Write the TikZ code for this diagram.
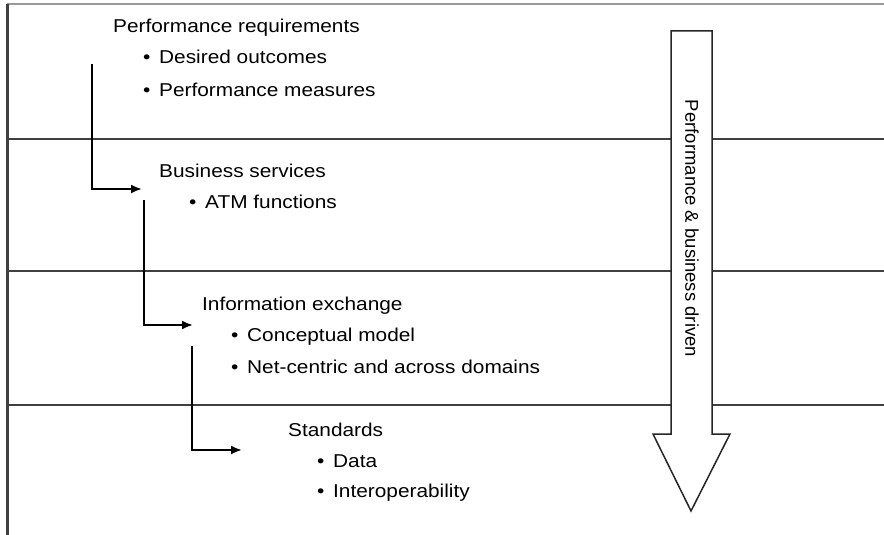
\documentclass[tikz,border=0pt]{standalone}
\usepackage{fontspec}
\usetikzlibrary{arrows.meta}
\setmainfont{Liberation Sans}
\newfontfamily\hfont[FakeStretch=1.12]{Liberation Sans}
\begin{document}
\begin{tikzpicture}[x=1pt,y=-1pt,
  head/.style={anchor=base west,inner sep=0pt,font=\hfont\fontsize{18.6}{22}\selectfont},
  item/.style={head},
  band/.style={draw=black!75,line width=1.4pt},
  flow/.style={draw=black,line width=2pt,-{Latex[length=11pt,width=9pt]}},
  bigarrow/.style={draw=black!85,line width=1.5pt,fill=white}]
\useasboundingbox (0,0) rectangle (884,535);
% frame
\draw[draw=black!40,line width=1.6pt] (7,4) -- (884,4);
\draw[draw=black!75,line width=2.2pt] (7.5,4) -- (7.5,535);
% band separators
\draw[band] (7,139) -- (884,139);
\draw[band] (7,271) -- (884,271);
\draw[band] (7,405) -- (884,405);
% big arrow
\path[bigarrow] (671,31) -- (712,31) -- (712,434) -- (730,434) -- (691,511) -- (653,434) -- (671,434) -- cycle;
\node[rotate=-90,inner sep=0pt,font=\fontsize{18.5}{22}\selectfont] (drv) at (692,228.5) {Performance \& business driven};
% texts
\newcommand{\blt}{\makebox[16pt][l]{•}}
\node[head] (pr) at (113,33) {Performance requirements};
\node[item] (pr1) at (143,64) {\blt Desired outcomes};
\node[item] (pr2) at (143,96) {\blt Performance measures};
\node[head] (bs) at (159,177) {Business services};
\node[item] (bs1) at (189,208) {\blt ATM functions};
\node[head] (ie) at (202,310) {Information exchange};
\node[item] (ie1) at (231,341) {\blt Conceptual model};
\node[item] (ie2) at (231,373) {\blt Net-centric and across domains};
\node[head] (st) at (288,436) {Standards};
\node[item] (st1) at (317,467) {\blt Data};
\node[item] (st2) at (317,497) {\blt Interoperability};
% connectors
\coordinate (s1) at (91.5,64);
\coordinate (t1) at (142,189);
\coordinate (s2) at (144,200);
\coordinate (t2) at (193,325);
\coordinate (s3) at (192,346);
\coordinate (t3) at (242,450);
\draw[flow] (s1) |- (t1);
\draw[flow] (s2) |- (t2);
\draw[flow] (s3) |- (t3);
\end{tikzpicture}
\end{document}
